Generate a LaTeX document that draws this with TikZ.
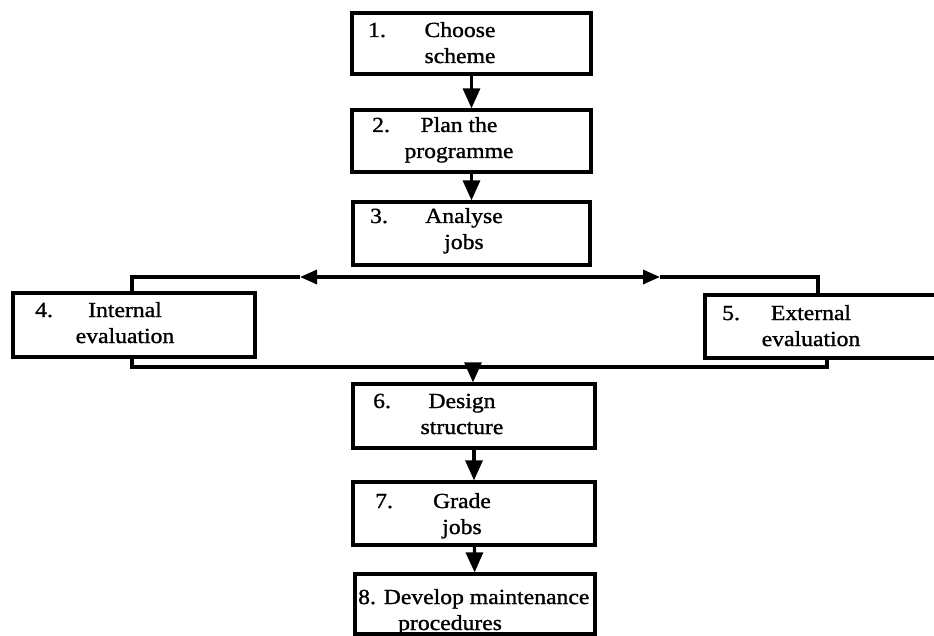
\documentclass[tikz,border=0pt]{standalone}
\usepackage{fontspec}
\setmainfont{Liberation Serif}[FakeStretch=1.1,FakeBold=1.2]
\usetikzlibrary{arrows.meta}
\begin{document}
\begin{tikzpicture}[x=1pt,y=-1pt,
  box/.style={draw, line width=3.2pt, inner sep=0pt},
  txt/.style={inner sep=0pt, align=center, anchor=base, font=\fontsize{21.5}{26}\selectfont},
  num/.style={inner sep=0pt, anchor=base west, font=\fontsize{21.5}{26}\selectfont},
  conn/.style={line width=3.2pt},
  varrow/.style={line width=3.2pt, -{Triangle[length=20pt,width=17pt]}},
  harrow/.style={line width=3.2pt, -{Triangle[length=17pt,width=14pt]}}]
\useasboundingbox (0,0) rectangle (934,636);
% boxes
\node[box, minimum width=239pt, minimum height=61pt] (b1) at (471.5,43.5) {};
\node[box, minimum width=239pt, minimum height=62pt] (b2) at (471.5,141) {};
\node[box, minimum width=237pt, minimum height=63pt] (b3) at (471.5,233.5) {};
\node[box, minimum width=242pt, minimum height=64pt] (b4) at (134,325) {};
\node[box, minimum width=245pt, minimum height=63pt] (b5) at (827.5,326.5) {};
\node[box, minimum width=242pt, minimum height=64pt] (b6) at (474,416) {};
\node[box, minimum width=242pt, minimum height=63pt] (b7) at (474,513.5) {};
\node[box, minimum width=240pt, minimum height=60pt] (b8) at (475,604) {};
% texts (base anchor = baseline of last line)
\node[num] (n1) at (368,37) {1.};
\node[txt] (t1) at (460,63) {Choose\\scheme};
\node[num] (n2) at (372,132) {2.};
\node[txt] (t2) at (459,158) {Plan the\\programme};
\node[num] (n3) at (370,223) {3.};
\node[txt] (t3) at (464,249) {Analyse\\jobs};
\node[num] (n4) at (35,317) {4.};
\node[txt] (t4) at (125,343) {Internal\\evaluation};
\node[num] (n5) at (722,320) {5.};
\node[txt] (t5) at (811,346) {External\\evaluation};
\node[num] (n6) at (373,408) {6.};
\node[txt] (t6) at (462,434) {Design\\structure};
\node[num] (n7) at (375,508) {7.};
\node[txt] (t7) at (462,534) {Grade\\jobs};
\node[txt, align=left, anchor=base west] (t8) at (358,630) {8. Develop maintenance\\\hspace*{40pt}procedures};
% connectors
\draw[varrow] (b1) -- (b2);
\draw[varrow] (b2) -- (b3);
\coordinate (split) at (473,277);
\coordinate (tipL) at (300,277);
\coordinate (tipR) at (660,277);
\coordinate (cornerL) at (132,277);
\coordinate (cornerR) at (818,277);
\draw[harrow] (split) -- (tipL);
\draw[harrow] (split) -- (tipR);
\draw[conn] (tipL) -- (cornerL) -- (cornerL |- b4.north);
\draw[conn] (tipR) -- (cornerR) -- (cornerR |- b5.north);
\coordinate (botL) at (132,367);
\coordinate (botR) at (827,367);
\coordinate (join) at (473,367);
\draw[conn] (botL |- b4.south) -- (botL) -- (botR) -- (botR |- b5.south);
\draw[varrow] (join) -- (join |- b6.north);
\draw[varrow] (b6) -- (b7);
\draw[varrow] (b7) -- (b8);
\end{tikzpicture}
\end{document}
